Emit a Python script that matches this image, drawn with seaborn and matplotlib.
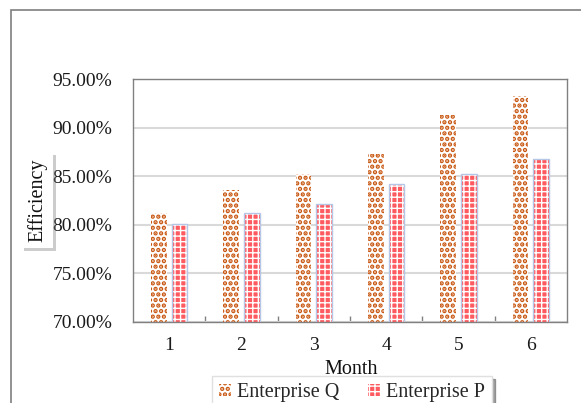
import matplotlib
matplotlib.use("Agg")
import matplotlib.pyplot as plt
import matplotlib.patches as mpatches
import matplotlib.patheffects as pe
from matplotlib.ticker import PercentFormatter, FixedLocator
import seaborn as sns
import pandas as pd

# Monthly efficiency (%) of the two enterprises
months = ["1", "2", "3", "4", "5", "6"]
enterprise_q = [81.2, 83.6, 85.2, 87.3, 91.3, 93.2]
enterprise_p = [80.1, 81.2, 82.1, 84.2, 85.2, 86.8]
series_names = ["Enterprise Q", "Enterprise P"]
y_ticks = [70, 75, 80, 85, 90, 95]

df = pd.DataFrame({
    "Month": months * 2,
    "Efficiency": enterprise_q + enterprise_p,
    "Series": [series_names[0]] * len(months) + [series_names[1]] * len(months),
})

Q_COLOR = "#C8550F"
P_COLOR = "#FF5A5F"
P_EDGE = "#B4C7E7"
Q_HATCH, P_HATCH = "...", "+++"
Q_HATCH_LW, P_HATCH_LW = 2.2, 1.0

sns.set_theme(style="white")
plt.rcParams["font.family"] = ["Liberation Serif", "DejaVu Serif"]
plt.rcParams["hatch.linewidth"] = Q_HATCH_LW


def style_patch(p, face, hatch_color, hatch, hatch_lw):
    p.set_facecolor(face)
    p.set_edgecolor(hatch_color)
    p.set_linewidth(0)
    p.set_hatch(hatch)
    if hasattr(p, "set_hatch_linewidth"):
        p.set_hatch_linewidth(hatch_lw)


fig = plt.figure(figsize=(5.81, 4.03), dpi=100)
ax = fig.add_axes([133 / 581, 81 / 403, 434 / 581, 243 / 403])

sns.barplot(data=df, x="Month", y="Efficiency", hue="Series",
            palette=["white", P_COLOR], width=0.57, gap=0.25,
            saturation=1, legend=False, ax=ax, zorder=2)

q_bars, p_bars = ax.containers[0], ax.containers[1]
for b in q_bars:
    style_patch(b, "white", Q_COLOR, Q_HATCH, Q_HATCH_LW)
for b in p_bars:
    style_patch(b, P_COLOR, "white", P_HATCH, P_HATCH_LW)
    ax.add_patch(mpatches.Rectangle(b.get_xy(), b.get_width(), b.get_height(),
                                    fill=False, ec=P_EDGE, lw=1.0, zorder=3))

ax.set_ylim(70, 95)
ax.yaxis.set_major_locator(FixedLocator(y_ticks))
ax.yaxis.set_major_formatter(PercentFormatter(decimals=2))
ax.grid(axis="y", color="#D9D9D9", lw=1.5)
ax.set_axisbelow(True)
ax.set_xlabel("")
ax.set_ylabel("")

ax.tick_params(axis="y", length=0, pad=15, labelsize=14, labelcolor="#1A1A1A")
ax.tick_params(axis="x", which="major", length=0, pad=11, labelsize=14, labelcolor="#1A1A1A")
ax.set_xticks([i + 0.5 for i in range(len(months) - 1)], minor=True)
ax.tick_params(axis="x", which="minor", direction="in", length=4, width=1, color="#808080", bottom=True)

for side in ["left", "top", "right", "bottom"]:
    ax.spines[side].set_visible(True)
    ax.spines[side].set_color("#808080")
    ax.spines[side].set_linewidth(1.0)

fig.text(351 / 581, 1 - 369 / 403, "Month", ha="center", va="center", fontsize=14.5, color="#111111")

ylab = fig.text(37 / 581, 1 - 200 / 403, "Efficiency", rotation=90, ha="center", va="center",
                fontsize=14.5, color="#111111",
                bbox=dict(boxstyle="square,pad=0.3", fc="white", ec="none"))
ylab.get_bbox_patch().set_path_effects([
    pe.SimplePatchShadow(offset=(2, -2), shadow_rgbFace="#808080", alpha=0.4), pe.Normal()])

# outer chart frame
fig.add_artist(mpatches.Rectangle((11 / 581, -0.1), 1.2, 1.1 - 10 / 403,
                                  transform=fig.transFigure, fill=False,
                                  ec="#7F7F7F", lw=1.2))

handles = [mpatches.Patch(), mpatches.Patch()]
style_patch(handles[0], "white", Q_COLOR, Q_HATCH, Q_HATCH_LW)
style_patch(handles[1], P_COLOR, "white", P_HATCH, P_HATCH_LW)
leg = fig.legend(handles, series_names, loc="upper center",
                 bbox_to_anchor=(352 / 581, 1 - 376 / 403), ncol=2,
                 frameon=True, fancybox=False, shadow=True, fontsize=14.5,
                 handlelength=0.6, handleheight=0.6, columnspacing=1.4,
                 handletextpad=0.3, borderpad=0.35, borderaxespad=0)
leg.get_frame().set_edgecolor("#E0E0E0")
for lp, src in zip(leg.get_patches(), handles):
    if hasattr(lp, "set_hatch_linewidth"):
        lp.set_hatch_linewidth(src.get_hatch_linewidth())

fig.savefig("out.png", dpi=100)
